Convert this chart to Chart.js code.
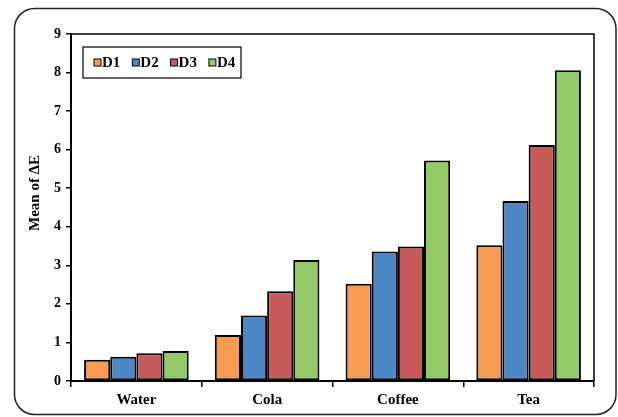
<!DOCTYPE html>
<html>
<head>
<meta charset="utf-8">
<script src="https://cdn.jsdelivr.net/npm/chart.js@4.4.1/dist/chart.umd.min.js"></script>
<style>
  html, body { margin: 0; padding: 0; background: #fff; }
  #wrap { width: 618px; height: 417px; }
</style>
</head>
<body>
<div id="wrap"><canvas id="myChart"></canvas></div>
<script>
const categories = ['Water', 'Cola', 'Coffee', 'Tea'];
const seriesNames = ['D1', 'D2', 'D3', 'D4'];
const d1 = [0.55, 1.19, 2.52, 3.52];
const d2 = [0.63, 1.70, 3.36, 4.67];
const d3 = [0.72, 2.33, 3.49, 6.12];
const d4 = [0.78, 3.14, 5.72, 8.06];
const yTicks = [0, 1, 2, 3, 4, 5, 6, 7, 8, 9];
const yTitle = 'Mean of ΔE';

const colors = ['#F89B52', '#4E87C6', '#C85A59', '#93C966'];
const fontFamily = "'Liberation Serif', 'Times New Roman', serif";

// rounded frame round the whole picture
const framePlugin = {
    id: 'frame',
    beforeDraw(chart) {
        const ctx = chart.ctx;
        ctx.save();
        ctx.strokeStyle = '#222';
        ctx.lineWidth = 1.5;
        ctx.beginPath();
        ctx.roundRect(14.5, 8.5, 601.5, 406, 20);
        ctx.stroke();
        ctx.restore();
    }
};

// top and right edge of the plot area, legend box, y title
const boxPlugin = {
    id: 'box',
    afterDatasetsDraw(chart) {
        const ctx = chart.ctx;
        const a = chart.chartArea;
        ctx.save();
        ctx.strokeStyle = '#000';
        ctx.lineWidth = 1.5;
        ctx.beginPath();
        ctx.moveTo(a.left, a.top);
        ctx.lineTo(a.right, a.top);
        ctx.lineTo(a.right, a.bottom);
        ctx.stroke();

        const lx = a.left + 12, ly = a.top + 13, lw = 158, lh = 31;
        ctx.fillStyle = '#fff';
        ctx.fillRect(lx, ly, lw, lh);
        ctx.lineWidth = 1.2;
        ctx.strokeRect(lx, ly, lw, lh);

        ctx.font = 'bold 15px ' + fontFamily;
        ctx.textBaseline = 'middle';
        ctx.textAlign = 'left';
        chart.data.datasets.forEach(function (ds, i) {
            const bx = lx + 11 + i * 38.3;
            const by = ly + lh / 2;
            ctx.fillStyle = ds.backgroundColor;
            ctx.fillRect(bx, by - 3.5, 7, 7);
            ctx.lineWidth = 1;
            ctx.strokeStyle = '#000';
            ctx.strokeRect(bx, by - 3.5, 7, 7);
            ctx.fillStyle = '#000';
            ctx.fillText(ds.label, bx + 8, by + 1);
        });

        // y axis title, sits a bit above the middle like the original
        ctx.translate(35, 193);
        ctx.rotate(-Math.PI / 2);
        ctx.textAlign = 'center';
        ctx.font = 'bold 15px ' + fontFamily;
        ctx.fillText(yTitle, 0, 0);
        ctx.restore();
    }
};

const seriesData = [d1, d2, d3, d4];

const ctx = document.getElementById('myChart').getContext('2d');
const myChart = new Chart(ctx, {
    type: 'bar',
    data: {
        labels: categories,
        datasets: seriesNames.map(function (name, i) {
            return {
                label: name,
                data: seriesData[i],
                backgroundColor: colors[i],
                borderColor: '#000',
                borderWidth: 2,
                borderSkipped: false,
                categoryPercentage: 0.8,
                barPercentage: 1.0
            };
        })
    },
    options: {
        responsive: true,
        maintainAspectRatio: false,
        animation: false,
        layout: {
            padding: { top: 34, right: 24, left: 0, bottom: 0 }
        },
        plugins: {
            legend: { display: false },
            tooltip: { enabled: false }
        },
        scales: {
            x: {
                grid: {
                    offset: true,
                    drawOnChartArea: false,
                    drawTicks: true,
                    tickLength: 6,
                    color: '#000',
                    lineWidth: 1.5
                },
                border: { color: '#000', width: 2 },
                ticks: {
                    color: '#000',
                    padding: 4,
                    font: { family: fontFamily, size: 15, weight: 'bold' }
                },
                afterFit(scale) { scale.height = 36; }
            },
            y: {
                min: 0,
                max: 9,
                afterBuildTicks(scale) {
                    scale.ticks = yTicks.map(function (v) { return { value: v }; });
                },
                grid: {
                    drawOnChartArea: false,
                    drawTicks: true,
                    tickLength: 5,
                    color: '#000',
                    lineWidth: 1.5
                },
                border: { color: '#000', width: 2 },
                ticks: {
                    color: '#000',
                    padding: 5,
                    font: { family: fontFamily, size: 14, weight: 'bold' }
                },
                afterFit(scale) { scale.width = 71; }
            }
        }
    },
    plugins: [framePlugin, boxPlugin]
});
</script>
</body>
</html>
